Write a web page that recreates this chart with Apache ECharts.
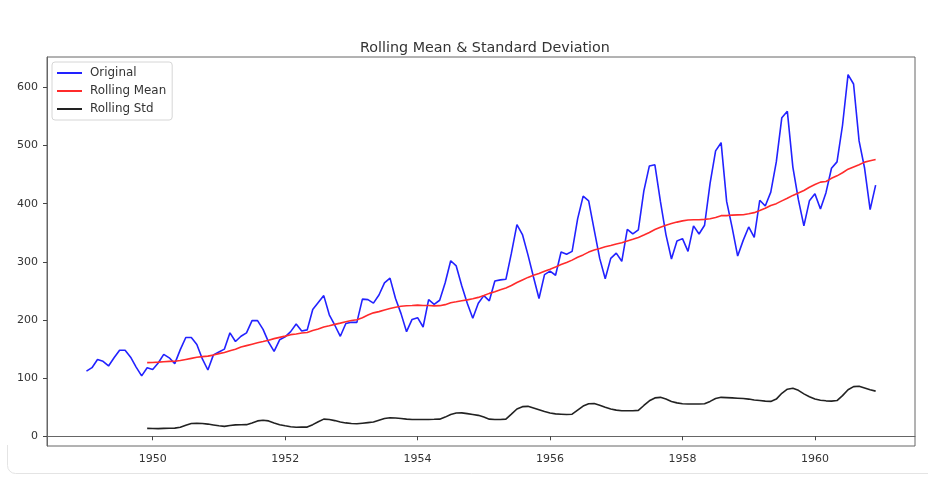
<!DOCTYPE html>
<html>
<head>
<meta charset="utf-8">
<script src="https://cdn.jsdelivr.net/npm/echarts@6/dist/echarts.min.js"></script>
<style>
html,body{margin:0;padding:0;background:#fff;}
#chart{width:928px;height:477px;}
</style>
</head>
<body>
<div id="chart"></div>
<script>
// Monthly passengers, Jan 1949 - Dec 1960
var startYear = 1949;
var passengers = [
  112,118,132,129,121,135,148,148,136,119,104,118,
  115,126,141,135,125,149,170,170,158,133,114,140,
  145,150,178,163,172,178,199,199,184,162,146,166,
  171,180,193,181,183,218,230,242,209,191,172,194,
  196,196,236,235,229,243,264,272,237,211,180,201,
  204,188,235,227,234,264,302,293,259,229,203,229,
  242,233,267,269,270,315,364,347,312,274,237,278,
  284,277,317,313,318,374,413,405,355,306,271,306,
  315,301,356,348,355,422,465,467,404,347,305,336,
  340,318,362,348,363,435,491,505,404,359,310,337,
  360,342,406,396,420,472,548,559,463,407,362,405,
  417,391,419,461,472,535,622,606,508,461,390,432
];
// Rolling mean (12 months), Dec 1949 - Dec 1960
var rollingMean = [
  126.67,
  126.92,127.58,128.33,128.83,129.17,130.33,132.17,134.00,135.83,137.00,137.83,139.67,
  142.17,144.17,147.25,149.58,153.50,155.92,158.33,160.75,162.92,165.33,168.00,170.17,
  172.33,174.83,176.08,177.58,178.50,181.83,184.42,188.00,190.08,192.50,194.67,197.00,
  199.08,200.42,204.00,208.50,212.33,214.42,217.25,219.75,222.08,223.75,224.42,225.00,
  225.67,225.00,224.92,224.25,224.67,226.42,229.58,231.33,233.17,234.67,236.58,238.92,
  242.08,245.83,248.50,252.00,255.00,259.25,264.42,268.92,273.33,277.08,279.92,284.00,
  287.50,291.17,295.33,299.00,303.00,307.92,312.00,316.83,320.42,323.08,325.92,328.25,
  330.83,332.83,336.08,339.00,342.08,346.08,350.42,355.58,359.67,363.08,365.92,368.42,
  370.50,371.92,372.42,372.42,373.08,374.17,376.33,379.50,379.50,380.50,380.92,381.00,
  382.67,384.67,388.33,392.33,397.08,400.17,404.92,409.42,414.33,418.33,422.67,428.33,
  433.08,437.17,438.25,443.67,448.00,453.25,459.42,463.33,467.08,471.58,473.92,476.17
];
// Rolling std (12 months), Dec 1949 - Dec 1960
var rollingStd = [
  13.7,
  13.5,13.2,13.7,13.8,14.0,15.5,19.0,22.0,22.5,22.0,21.0,19.5,
  18.0,17.0,18.5,19.6,19.8,20.0,23.0,26.5,27.5,26.5,23.0,20.0,
  18.0,16.5,15.5,16.0,15.8,20.0,25.0,29.5,29.0,27.0,24.5,23.0,
  22.0,21.5,22.5,23.5,24.5,27.5,30.5,32.0,31.5,30.5,29.5,29.0,
  29.0,29.0,29.0,29.2,29.5,33.0,37.5,40.0,40.3,39.0,37.5,36.0,
  33.0,29.5,29.0,29.0,29.5,38.0,47.0,51.0,51.5,48.5,45.5,42.5,
  40.0,38.5,38.0,37.5,38.0,45.0,52.0,56.0,56.5,53.5,50.0,47.0,
  45.0,44.0,44.0,44.0,44.5,53.0,61.0,66.0,67.0,64.0,60.0,57.5,
  56.0,55.5,55.5,55.5,56.0,60.0,65.0,67.0,66.5,66.0,65.5,65.0,
  64.0,62.5,61.5,60.5,60.0,64.0,74.0,81.0,82.5,79.0,73.0,68.0,
  64.0,62.0,61.0,60.5,61.5,70.0,80.0,85.5,86.0,83.0,80.0,77.7
];
var xTicks = [1950,1952,1954,1956,1958,1960];
var yTicks = [0,100,200,300,400,500,600];
var seriesNames = ['Original','Rolling Mean','Rolling Std'];

function toPairs(values, offsetMonths) {
  return values.map(function (v, i) {
    return [startYear + (i + offsetMonths) / 12, v];
  });
}

var chart = echarts.init(document.getElementById('chart'), null, {renderer: 'canvas'});
var font = 'DejaVu Sans';
var frameStyle = {fill: 'none', stroke: '#e4e4e4', lineWidth: 1};
chart.setOption({
  animation: false,
  backgroundColor: '#fff',
  title: {
    text: 'Rolling Mean & Standard Deviation',
    left: 355, top: 36,
    textStyle: {fontFamily: font, fontSize: 14.3, fontWeight: 'normal', color: '#333'}
  },
  legend: {
    orient: 'vertical',
    left: 52, top: 62,
    padding: [4, 6, 4, 5],
    itemGap: 4,
    itemWidth: 25, itemHeight: 2,
    borderColor: '#d6d6d6', borderWidth: 1, borderRadius: 3,
    backgroundColor: 'rgba(255,255,255,0.8)',
    icon: 'rect',
    data: seriesNames,
    textStyle: {fontFamily: font, fontSize: 11.9, color: '#333', lineHeight: 14, padding: [0,0,0,3]}
  },
  grid: {
    left: 47, right: 13, top: 57, bottom: 31,
    show: true, borderColor: '#666', borderWidth: 1, backgroundColor: 'transparent'
  },
  graphic: [
    {type: 'line', silent: true, shape: {x1: 7.5, y1: 445, x2: 7.5, y2: 465.5}, style: frameStyle},
    {type: 'arc', silent: true, shape: {cx: 15.5, cy: 465.5, r: 8, startAngle: Math.PI / 2, endAngle: Math.PI}, style: frameStyle},
    {type: 'line', silent: true, shape: {x1: 15.5, y1: 473.5, x2: 928, y2: 473.5}, style: frameStyle}
  ],
  xAxis: {
    type: 'value',
    min: 1948.404, max: 1961.511,
    axisLine: {show: true, lineStyle: {color: '#666'}},
    axisTick: {show: true, length: 4, lineStyle: {color: '#444'}, customValues: xTicks},
    axisLabel: {customValues: xTicks, margin: 8, fontFamily: font, fontSize: 11, color: '#333',
      formatter: function (v) { return String(v); }},
    splitLine: {show: false}
  },
  yAxis: {
    type: 'value',
    min: -16.7, max: 652.4,
    axisLine: {show: true, lineStyle: {color: '#666'}},
    axisTick: {show: true, length: 4, lineStyle: {color: '#444'}, customValues: yTicks},
    axisLabel: {customValues: yTicks, margin: 9, fontFamily: font, fontSize: 11, color: '#333'},
    splitLine: {show: false}
  },
  series: [
    {name: seriesNames[0], type: 'line', data: toPairs(passengers, 0), showSymbol: false,
      color: '#2222ff', lineStyle: {width: 1.6, color: '#2222ff'}},
    {name: seriesNames[1], type: 'line', data: toPairs(rollingMean, 11), showSymbol: false,
      color: '#ff2b2b', lineStyle: {width: 1.6, color: '#ff2b2b'}},
    {name: seriesNames[2], type: 'line', data: toPairs(rollingStd, 11), showSymbol: false,
      color: '#222222', lineStyle: {width: 1.6, color: '#222222'}}
  ]
});
</script>
</body>
</html>
